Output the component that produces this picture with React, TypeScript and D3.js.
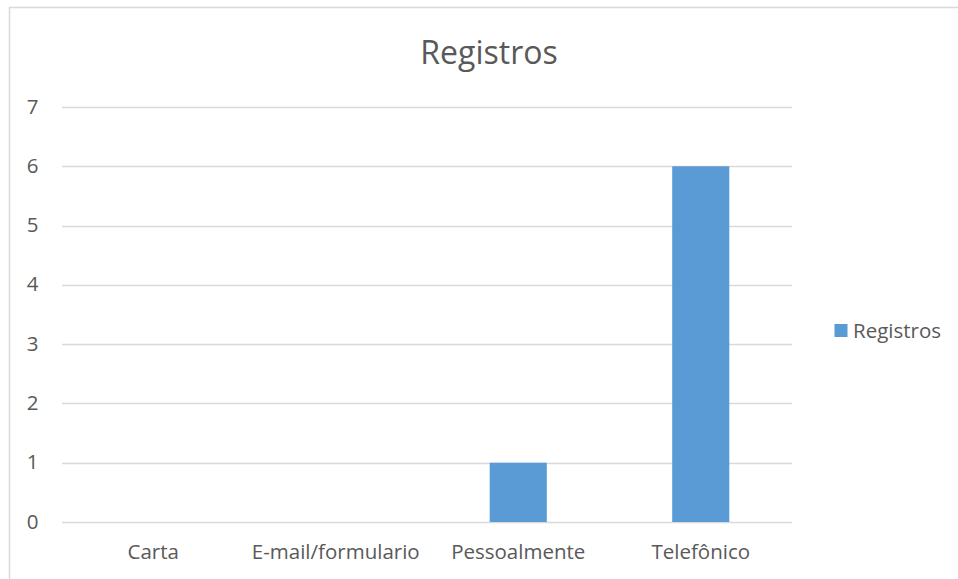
import { useEffect, useRef } from 'react'
import * as d3 from 'd3'

const categories = ['Carta', 'E-mail/formulario', 'Pessoalmente', 'Telefônico']
const values = [0, 0, 1, 6]
const yTicks = [0, 1, 2, 3, 4, 5, 6, 7]
const seriesName = 'Registros'
const title = 'Registros'

const W = 958
const H = 579

const App = () => {
	const svgRef = useRef<SVGSVGElement>(null)

	useEffect(() => {
		const svg = d3.select(svgRef.current)
		svg.selectAll('*').remove()

		const font = '"Open Sans", "Liberation Sans", sans-serif'
		const textColor = '#595959'

		// Plot area
		const left = 62
		const right = 792
		const top = 107
		const bottom = 522

		const x = d3.scaleBand().domain(categories).range([left, right])
		const y = d3.scaleLinear().domain([0, 7]).range([bottom, top])

		// background + border
		svg.append('rect').attr('width', W).attr('height', H).attr('fill', '#fff')
		svg
			.append('rect')
			.attr('x', 9.5)
			.attr('y', 7.5)
			.attr('width', W + 20)
			.attr('height', H + 20)
			.attr('fill', 'none')
			.attr('stroke', '#d9d9d9')
			.attr('stroke-width', 1.5)

		// Title
		svg
			.append('text')
			.attr('x', 489)
			.attr('y', 63.5)
			.attr('text-anchor', 'middle')
			.style('font-family', font)
			.style('font-size', '32px')
			.style('fill', textColor)
			.text(title)

		// Gridlines
		svg
			.append('g')
			.selectAll('line')
			.data(yTicks)
			.enter()
			.append('line')
			.attr('x1', left)
			.attr('x2', right)
			.attr('y1', (d) => Math.round(y(d)) + 0.5)
			.attr('y2', (d) => Math.round(y(d)) + 0.5)
			.attr('stroke', '#d9d9d9')
			.attr('stroke-width', 1.5)

		// Y tick labels
		svg
			.append('g')
			.selectAll('text')
			.data(yTicks)
			.enter()
			.append('text')
			.attr('x', 38.5)
			.attr('y', (d) => y(d) + 6.5)
			.attr('text-anchor', 'end')
			.style('font-family', font)
			.style('font-size', '20.5px')
			.style('fill', textColor)
			.text((d) => d)

		// Bars
		const barW = x.bandwidth() * 0.313
		svg
			.append('g')
			.selectAll('rect')
			.data(values)
			.enter()
			.append('rect')
			.attr('x', (d, i) => x(categories[i])! + x.bandwidth() / 2 - barW / 2)
			.attr('y', (d) => y(d))
			.attr('width', barW)
			.attr('height', (d) => bottom - y(d))
			.attr('fill', '#5b9bd5')

		// X labels
		svg
			.append('g')
			.selectAll('text')
			.data(categories)
			.enter()
			.append('text')
			.attr('x', (d) => x(d)! + x.bandwidth() / 2)
			.attr('y', 559)
			.attr('text-anchor', 'middle')
			.style('font-family', font)
			.style('font-size', '20.5px')
			.style('fill', textColor)
			.text((d) => d)

		// Legend
		svg
			.append('rect')
			.attr('x', 834.5)
			.attr('y', 324)
			.attr('width', 13)
			.attr('height', 13)
			.attr('fill', '#5b9bd5')
		svg
			.append('text')
			.attr('x', 853)
			.attr('y', 337.5)
			.style('font-family', font)
			.style('font-size', '20.5px')
			.style('fill', textColor)
			.text(seriesName)
	}, [])

	return (
		<svg
			ref={svgRef}
			width={W}
			height={H}
			style={{ position: 'absolute', left: 0, top: 0 }}
		></svg>
	)
}

export default App
